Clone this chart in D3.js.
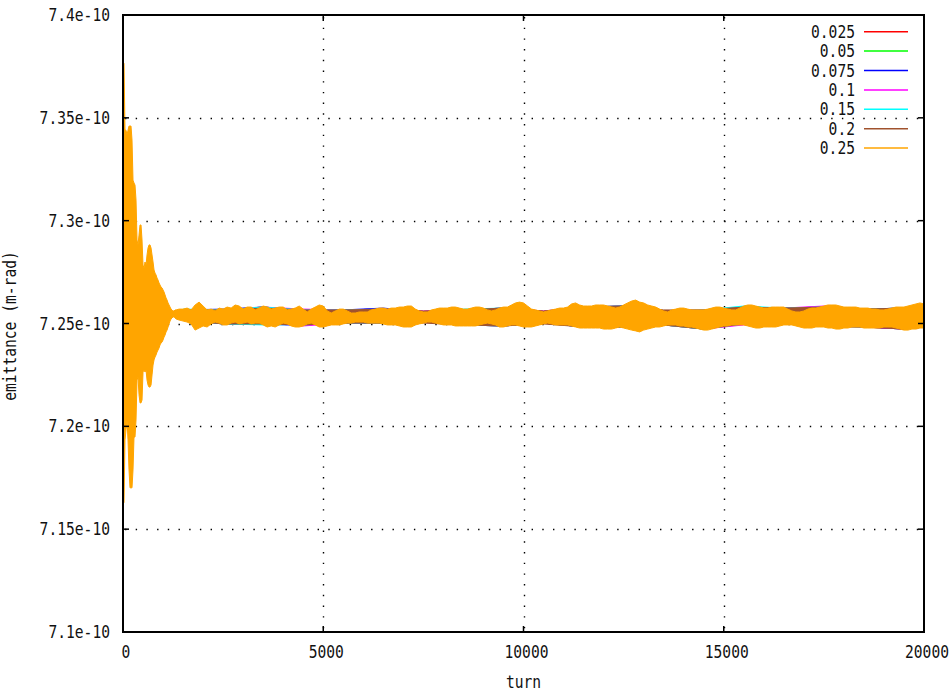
<!DOCTYPE html>
<html>
<head>
<meta charset="utf-8">
<script src="https://cdn.jsdelivr.net/npm/d3@7"></script>
<style>
  html, body { margin: 0; padding: 0; background: #fff; }
  svg { display: block; }
  text { font-family: "DejaVu Sans Mono", monospace; font-size: 17px; fill: #111; }
</style>
</head>
<body>
<svg id="chart" width="951" height="693"></svg>
<script>
// Emittance vs. turn for seven settings; values are in units of 1e-10 m-rad.
const UNIT = 1e-10;

const seriesLabels = ["0.025", "0.05", "0.075", "0.1", "0.15", "0.2", "0.25"];
const seriesColors = ["#ff0000", "#00ff00", "#0000ff", "#ff00ff", "#00ffff", "#a0522d", "#ffa500"];

const xTicks = [0, 5000, 10000, 15000, 20000];
const xTickLabels = ["0", "5000", "10000", "15000", "20000"];
const yTicks = [7.1, 7.15, 7.2, 7.25, 7.3, 7.35, 7.4];
const yTickLabels = ["7.1e-10", "7.15e-10", "7.2e-10", "7.25e-10", "7.3e-10", "7.35e-10", "7.4e-10"];

// 0.25 series: upper / lower envelope of the fast oscillation.
// Start-up transient, sampled every 25 turns (0 .. 1325).
const earlyTurns = d3.range(0, 1350, 25);
const earlyHi = [
  7.3766, 7.3766, 7.3440, 7.3440, 7.3416, 7.3440, 7.3460, 7.3460, 7.3460, 7.3392,
  7.3197, 7.3183, 7.3173, 7.3100, 7.2906, 7.2882, 7.2930, 7.2979, 7.2979, 7.2906,
  7.2784, 7.2770, 7.2799, 7.2784, 7.2833, 7.2867, 7.2882, 7.2882, 7.2867, 7.2833,
  7.2799, 7.2760, 7.2745, 7.2736, 7.2721, 7.2711, 7.2697, 7.2687, 7.2677, 7.2673,
  7.2663, 7.2653, 7.2639, 7.2624, 7.2614, 7.2600, 7.2590, 7.2580, 7.2570, 7.2566,
  7.2561, 7.2561, 7.2566, 7.2566
];
const earlyLo = [
  7.1628, 7.1628, 7.1934, 7.1982, 7.2031, 7.1934, 7.1788, 7.1701, 7.1701, 7.1701,
  7.1788, 7.1948, 7.1948, 7.2031, 7.2225, 7.2240, 7.2153, 7.2114, 7.2114, 7.2128,
  7.2264, 7.2274, 7.2264, 7.2274, 7.2225, 7.2201, 7.2191, 7.2191, 7.2201, 7.2250,
  7.2298, 7.2323, 7.2337, 7.2347, 7.2361, 7.2371, 7.2381, 7.2396, 7.2405, 7.2410,
  7.2420, 7.2434, 7.2444, 7.2459, 7.2468, 7.2483, 7.2498, 7.2512, 7.2522, 7.2527,
  7.2532, 7.2532, 7.2527, 7.2522
];
// Settled part, sampled every 100 turns (1400 .. 20000).
const bodyTurns = d3.range(1400, 20001, 100);
const bodyHi = [
  7.2570, 7.2570, 7.2575, 7.2566, 7.2590, 7.2604, 7.2585, 7.2566, 7.2570, 7.2561,
  7.2575, 7.2570, 7.2580, 7.2575, 7.2590, 7.2585, 7.2570, 7.2580, 7.2580, 7.2566,
  7.2575, 7.2585, 7.2580, 7.2570, 7.2575, 7.2580, 7.2580, 7.2566, 7.2570, 7.2575,
  7.2585, 7.2570, 7.2556, 7.2570, 7.2580, 7.2590, 7.2585, 7.2561, 7.2551, 7.2561,
  7.2570, 7.2570, 7.2561, 7.2551, 7.2551, 7.2556, 7.2556, 7.2556, 7.2566, 7.2570,
  7.2575, 7.2575, 7.2570, 7.2575, 7.2575, 7.2580, 7.2580, 7.2585, 7.2585, 7.2570,
  7.2561, 7.2556, 7.2556, 7.2566, 7.2570, 7.2575, 7.2575, 7.2575, 7.2580, 7.2580,
  7.2575, 7.2570, 7.2570, 7.2575, 7.2580, 7.2580, 7.2575, 7.2566, 7.2561, 7.2566,
  7.2575, 7.2580, 7.2580, 7.2590, 7.2600, 7.2604, 7.2600, 7.2585, 7.2570, 7.2566,
  7.2561, 7.2556, 7.2561, 7.2566, 7.2570, 7.2575, 7.2575, 7.2580, 7.2595, 7.2600,
  7.2590, 7.2585, 7.2585, 7.2585, 7.2590, 7.2590, 7.2590, 7.2585, 7.2580, 7.2575,
  7.2580, 7.2590, 7.2600, 7.2609, 7.2614, 7.2604, 7.2600, 7.2590, 7.2585, 7.2580,
  7.2570, 7.2561, 7.2556, 7.2566, 7.2570, 7.2575, 7.2575, 7.2570, 7.2566, 7.2566,
  7.2566, 7.2566, 7.2570, 7.2575, 7.2580, 7.2580, 7.2575, 7.2570, 7.2566, 7.2566,
  7.2575, 7.2585, 7.2590, 7.2590, 7.2585, 7.2580, 7.2575, 7.2575, 7.2580, 7.2580,
  7.2580, 7.2580, 7.2570, 7.2561, 7.2556, 7.2556, 7.2561, 7.2570, 7.2575, 7.2575,
  7.2580, 7.2585, 7.2590, 7.2590, 7.2590, 7.2585, 7.2580, 7.2580, 7.2580, 7.2580,
  7.2575, 7.2575, 7.2575, 7.2570, 7.2570, 7.2566, 7.2566, 7.2570, 7.2575, 7.2580,
  7.2580, 7.2580, 7.2585, 7.2590, 7.2595, 7.2600, 7.2595
];
const bodyLo = [
  7.2517, 7.2512, 7.2507, 7.2498, 7.2468, 7.2478, 7.2488, 7.2483, 7.2498, 7.2507,
  7.2502, 7.2493, 7.2493, 7.2502, 7.2507, 7.2498, 7.2502, 7.2507, 7.2498, 7.2502,
  7.2502, 7.2493, 7.2483, 7.2488, 7.2483, 7.2493, 7.2502, 7.2498, 7.2488, 7.2483,
  7.2483, 7.2488, 7.2498, 7.2502, 7.2493, 7.2483, 7.2483, 7.2488, 7.2493, 7.2493,
  7.2493, 7.2498, 7.2502, 7.2502, 7.2507, 7.2507, 7.2507, 7.2502, 7.2502, 7.2502,
  7.2502, 7.2498, 7.2493, 7.2493, 7.2493, 7.2488, 7.2483, 7.2483, 7.2483, 7.2493,
  7.2498, 7.2502, 7.2507, 7.2507, 7.2502, 7.2498, 7.2493, 7.2493, 7.2493, 7.2488,
  7.2488, 7.2488, 7.2488, 7.2488, 7.2488, 7.2493, 7.2498, 7.2502, 7.2498, 7.2493,
  7.2483, 7.2483, 7.2488, 7.2493, 7.2493, 7.2488, 7.2483, 7.2483, 7.2483, 7.2488,
  7.2493, 7.2498, 7.2502, 7.2498, 7.2493, 7.2493, 7.2493, 7.2493, 7.2488, 7.2483,
  7.2478, 7.2478, 7.2478, 7.2478, 7.2478, 7.2478, 7.2473, 7.2473, 7.2473, 7.2478,
  7.2483, 7.2478, 7.2473, 7.2468, 7.2464, 7.2459, 7.2468, 7.2473, 7.2478, 7.2483,
  7.2483, 7.2488, 7.2493, 7.2493, 7.2493, 7.2488, 7.2488, 7.2483, 7.2483, 7.2478,
  7.2473, 7.2468, 7.2468, 7.2473, 7.2478, 7.2483, 7.2488, 7.2488, 7.2493, 7.2493,
  7.2493, 7.2493, 7.2488, 7.2483, 7.2478, 7.2478, 7.2483, 7.2483, 7.2483, 7.2483,
  7.2488, 7.2493, 7.2493, 7.2493, 7.2488, 7.2483, 7.2478, 7.2478, 7.2478, 7.2483,
  7.2483, 7.2483, 7.2478, 7.2478, 7.2473, 7.2473, 7.2478, 7.2478, 7.2483, 7.2483,
  7.2483, 7.2478, 7.2478, 7.2478, 7.2478, 7.2478, 7.2483, 7.2483, 7.2483, 7.2478,
  7.2473, 7.2468, 7.2468, 7.2473, 7.2473, 7.2478, 7.2478
];

// The other six settings, envelopes every 1000 turns (1500 .. 19500, 20000).
const coarseTurns = d3.range(1500, 20000, 1000).concat([20000]);
const hi025 = [7.2566, 7.2566, 7.2580, 7.2566, 7.2566, 7.2570, 7.2556, 7.2566, 7.2575, 7.2556,
               7.2580, 7.2585, 7.2561, 7.2561, 7.2580, 7.2575, 7.2580, 7.2570, 7.2575, 7.2590];
const lo025 = [7.2517, 7.2498, 7.2498, 7.2493, 7.2502, 7.2502, 7.2507, 7.2493, 7.2488, 7.2502,
               7.2483, 7.2483, 7.2493, 7.2473, 7.2498, 7.2498, 7.2488, 7.2483, 7.2473, 7.2483];
const hi05  = [7.2566, 7.2566, 7.2580, 7.2566, 7.2566, 7.2570, 7.2556, 7.2566, 7.2575, 7.2556,
               7.2580, 7.2585, 7.2556, 7.2561, 7.2580, 7.2575, 7.2580, 7.2570, 7.2575, 7.2590];
const lo05  = [7.2517, 7.2498, 7.2498, 7.2493, 7.2502, 7.2502, 7.2507, 7.2493, 7.2488, 7.2502,
               7.2483, 7.2483, 7.2493, 7.2473, 7.2498, 7.2498, 7.2488, 7.2483, 7.2473, 7.2483];
const hi075 = [7.2566, 7.2570, 7.2580, 7.2566, 7.2566, 7.2575, 7.2556, 7.2566, 7.2575, 7.2556,
               7.2580, 7.2585, 7.2561, 7.2561, 7.2580, 7.2575, 7.2580, 7.2570, 7.2575, 7.2590];
const lo075 = [7.2517, 7.2498, 7.2498, 7.2493, 7.2502, 7.2502, 7.2507, 7.2493, 7.2488, 7.2502,
               7.2483, 7.2483, 7.2493, 7.2478, 7.2498, 7.2498, 7.2488, 7.2483, 7.2473, 7.2483];
const hi1   = [7.2566, 7.2566, 7.2580, 7.2570, 7.2566, 7.2570, 7.2561, 7.2566, 7.2575, 7.2561,
               7.2580, 7.2585, 7.2561, 7.2566, 7.2580, 7.2575, 7.2585, 7.2570, 7.2575, 7.2590];
const lo1   = [7.2517, 7.2498, 7.2498, 7.2488, 7.2502, 7.2502, 7.2507, 7.2493, 7.2488, 7.2502,
               7.2483, 7.2483, 7.2493, 7.2473, 7.2493, 7.2498, 7.2488, 7.2483, 7.2473, 7.2483];
const hi15  = [7.2570, 7.2566, 7.2580, 7.2566, 7.2566, 7.2570, 7.2556, 7.2570, 7.2575, 7.2556,
               7.2580, 7.2585, 7.2561, 7.2566, 7.2585, 7.2575, 7.2580, 7.2570, 7.2575, 7.2590];
const lo15  = [7.2517, 7.2498, 7.2493, 7.2493, 7.2502, 7.2502, 7.2507, 7.2493, 7.2488, 7.2502,
               7.2483, 7.2483, 7.2493, 7.2473, 7.2498, 7.2498, 7.2488, 7.2483, 7.2478, 7.2483];
const hi2   = [7.2566, 7.2566, 7.2575, 7.2566, 7.2566, 7.2570, 7.2561, 7.2566, 7.2575, 7.2561,
               7.2580, 7.2585, 7.2566, 7.2566, 7.2580, 7.2575, 7.2580, 7.2570, 7.2575, 7.2585];
const lo2   = [7.2517, 7.2498, 7.2498, 7.2493, 7.2502, 7.2502, 7.2502, 7.2493, 7.2488, 7.2498,
               7.2483, 7.2483, 7.2493, 7.2473, 7.2498, 7.2498, 7.2488, 7.2483, 7.2473, 7.2483];

const series = [
  { turns: coarseTurns, hi: hi025, lo: lo025 },
  { turns: coarseTurns, hi: hi05,  lo: lo05 },
  { turns: coarseTurns, hi: hi075, lo: lo075 },
  { turns: coarseTurns, hi: hi1,   lo: lo1 },
  { turns: coarseTurns, hi: hi15,  lo: lo15 },
  { turns: coarseTurns, hi: hi2,   lo: lo2 },
  { turns: earlyTurns.concat(bodyTurns), hi: earlyHi.concat(bodyHi), lo: earlyLo.concat(bodyLo) }
];

// ---- layout ----
const plot = { left: 123, right: 924, top: 15, bottom: 632 };
const svg = d3.select("#chart");

const x = d3.scaleLinear().domain([0, 20000]).range([plot.left, plot.right]);
const y = d3.scaleLinear().domain([7.1 * UNIT, 7.4 * UNIT]).range([plot.bottom, plot.top]);

svg.append("defs").append("clipPath").attr("id", "plotClip")
  .append("rect")
  .attr("x", plot.left).attr("y", plot.top)
  .attr("width", plot.right - plot.left).attr("height", plot.bottom - plot.top);

// dotted grid
const grid = svg.append("g").attr("stroke", "#000").attr("stroke-width", 1.4)
  .attr("stroke-dasharray", "1.4 9.3").attr("fill", "none");
yTicks.slice(1, -1).forEach(v => {
  const yy = Math.round(y(v * UNIT)) + 0.5;
  grid.append("line").attr("x1", plot.left + 2).attr("x2", plot.right).attr("y1", yy).attr("y2", yy);
});
xTicks.slice(1, -1).forEach(t => {
  const xx = Math.round(x(t)) + 0.5;
  grid.append("line").attr("x1", xx).attr("x2", xx).attr("y1", plot.top + 2).attr("y2", plot.bottom);
});

// data bands
const dataLayer = svg.append("g").attr("clip-path", "url(#plotClip)");
series.forEach((s, k) => {
  const idx = d3.range(s.turns.length);
  const area = d3.area()
    .x(i => x(s.turns[i]))
    .y0(i => y(s.lo[i] * UNIT))
    .y1(i => y(s.hi[i] * UNIT));
  dataLayer.append("path")
    .attr("d", area(idx))
    .attr("fill", seriesColors[k])
    .attr("stroke", seriesColors[k])
    .attr("stroke-width", 1)
    .attr("stroke-linejoin", "miter");
});

// ticks on all four sides (inward)
const tickLen = 6;
const ticks = svg.append("g").attr("stroke", "#000").attr("stroke-width", 1.5);
yTicks.forEach(v => {
  const yy = y(v * UNIT);
  ticks.append("line").attr("x1", plot.left).attr("x2", plot.left + tickLen).attr("y1", yy).attr("y2", yy);
  ticks.append("line").attr("x1", plot.right - tickLen).attr("x2", plot.right).attr("y1", yy).attr("y2", yy);
});
xTicks.forEach(t => {
  const xx = x(t);
  ticks.append("line").attr("x1", xx).attr("x2", xx).attr("y1", plot.bottom).attr("y2", plot.bottom - tickLen);
  ticks.append("line").attr("x1", xx).attr("x2", xx).attr("y1", plot.top).attr("y2", plot.top + tickLen);
});

// border
svg.append("rect")
  .attr("x", plot.left).attr("y", plot.top)
  .attr("width", plot.right - plot.left).attr("height", plot.bottom - plot.top)
  .attr("fill", "none").attr("stroke", "#000").attr("stroke-width", 2);

const charW = 8.8;
function label(g, str, px, py, anchor) {
  return g.append("text")
    .attr("x", px).attr("y", py)
    .attr("text-anchor", anchor)
    .attr("dominant-baseline", "central")
    .attr("textLength", str.length * charW)
    .attr("lengthAdjust", "spacingAndGlyphs")
    .text(str);
}

const labels = svg.append("g");
yTicks.forEach((v, i) => label(labels, yTickLabels[i], 110, y(v * UNIT), "end"));
xTicks.forEach((t, i) => label(labels, xTickLabels[i], x(t) + 3, 652, "middle"));
label(labels, "turn", x(10000), 682, "middle");
label(labels, "emittance (m-rad)", 0, 0, "middle")
  .attr("transform", "translate(10,326) rotate(-90)");

// legend
const legend = svg.append("g");
seriesLabels.forEach((name, i) => {
  const ly = 31.7 + i * 19.4;
  label(legend, name, 855, ly, "end");
  legend.append("line")
    .attr("x1", 864).attr("x2", 908).attr("y1", ly).attr("y2", ly)
    .attr("stroke", seriesColors[i]).attr("stroke-width", 1.5);
});
</script>
</body>
</html>
